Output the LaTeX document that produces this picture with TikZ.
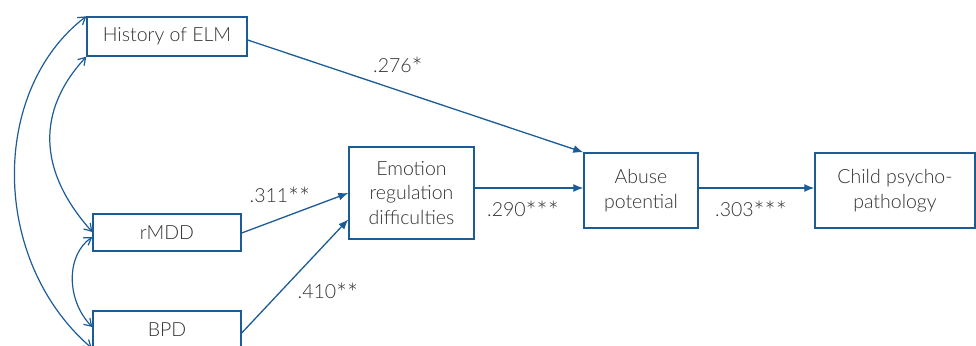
\documentclass[tikz,border=0pt]{standalone}
\usepackage{fontspec}
\setmainfont{Lato}[UprightFont=* Light]
\newcommand{\stx}{{\fontsize{26}{26}\selectfont\raisebox{-4.5pt}{*}}}
\usetikzlibrary{arrows.meta,calc}
\definecolor{lineblue}{RGB}{28,92,150}
\definecolor{txt}{RGB}{50,50,50}
\begin{document}
\begin{tikzpicture}[x=1pt,y=-1pt,
  box/.style={draw=lineblue,line width=1.4pt,fill=white,text=txt,font=\fontsize{19.5}{24.5}\selectfont,align=center,inner sep=0pt},
  path/.style={draw=lineblue,line width=1.3pt,-{Latex[length=10pt,width=8pt]}},
  cov/.style={draw=lineblue,line width=1.2pt,{Straight Barb[length=7pt,width=9pt]}-{Straight Barb[length=7pt,width=9pt]}},
  lab/.style={text=txt,font=\fontsize{19.5}{24}\selectfont,inner sep=0pt}]
\useasboundingbox (0,0) rectangle (976,345);
\node[box,minimum width=160pt,minimum height=39pt] (hist) at (167,36.5) {History of ELM};
\node[box,minimum width=148pt,minimum height=37pt] (rmdd) at (167,232.5) {rMDD};
\node[box,minimum width=148pt,minimum height=37pt] (bpd) at (167,329.5) {BPD};
\node[box,minimum width=125pt,minimum height=92pt] (emo) at (411.5,193) {Emotion\\regulation\\difficulties};
\node[box,minimum width=114pt,minimum height=75pt] (abuse) at (641,190.5) {Abuse\\potential};
\node[box,minimum width=160pt,minimum height=75pt] (child) at (895,190.5) {Child psycho-\\pathology};
\coordinate (histout) at ($(hist.east)+(0,3.5)$);
\coordinate (abin) at ($(abuse.west)+(0,-2.5)$);
\coordinate (about) at ($(abuse.east)+(0,-2.5)$);
\coordinate (chin) at ($(child.west)+(0,-2.5)$);
\coordinate (emout) at (abin -| emo.east);
\coordinate (rmout) at ($(rmdd.east)+(0,0.5)$);
\coordinate (bpout) at ($(bpd.east)+(0,3.5)$);
\coordinate (emin2) at ($(emo.south west)!0.217!(emo.north west)$);
\coordinate (bpbot) at ($(bpd.south west)+(-0.5,-0.5)$);
\coordinate (rmin1) at ($(rmdd.west)+(0,-0.5)$);
\coordinate (rmin2) at ($(rmdd.west)+(0,4.5)$);
\coordinate (bpin) at ($(bpd.west)+(0,-2.5)$);
\path[path] (histout) -- (abuse.north west);
\path[path] (emout) -- (abin);
\path[path] (about) -- (chin);
\path[path] (rmout) -- (emo.west);
\path[path] (bpout) -- (emin2);
\path[cov] (hist.north west) .. controls (-10,90) and (-10,260) .. (bpbot);
\path[cov] (hist.south west) .. controls (37,110) and (37,170) .. (rmin1);
\path[cov] (rmin2) .. controls (66,255) and (66,300) .. (bpin);
\node[lab] (l1) at (398,67) {.276\stx};
\node[lab] (l2) at (280,197) {.311\stx\stx};
\node[lab] (l3) at (328,293) {.410\stx\stx};
\node[lab] (l4) at (523,211) {.290\stx\stx\stx};
\node[lab] (l5) at (751,211) {.303\stx\stx\stx};
\end{tikzpicture}
\end{document}
